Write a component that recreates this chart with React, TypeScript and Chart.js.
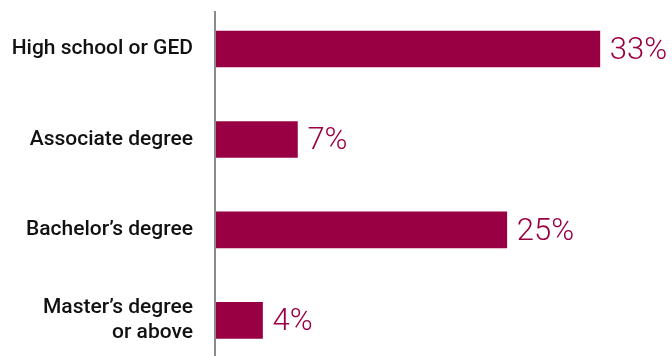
import React, { useEffect, useRef } from "react";
import { Chart, registerables } from "chart.js";

Chart.register(...registerables);

const categories: (string | string[])[] = [
  "High school or GED",
  "Associate degree",
  "Bachelor’s degree",
  ["Master’s degree", "or above"],
];
const values: number[] = [33, 7, 25, 4];
const valueLabels: string[] = ["33%", "7%", "25%", "4%"];

const BAR_COLOR = "#990044";

const axisLinePlugin = {
  id: "axisLine",
  afterDatasetsDraw(chart: any) {
    const ctx = chart.ctx;
    const x = chart.chartArea.left - 1;
    ctx.save();
    ctx.strokeStyle = "#8a8a8a";
    ctx.lineWidth = 2;
    ctx.beginPath();
    ctx.moveTo(x, 11);
    ctx.lineTo(x, chart.height);
    ctx.stroke();
    ctx.restore();
  },
};

const valueLabelPlugin = {
  id: "valueLabels",
  afterDatasetsDraw(chart: any) {
    const ctx = chart.ctx;
    const meta = chart.getDatasetMeta(0);
    ctx.save();
    ctx.fillStyle = BAR_COLOR;
    ctx.font = "300 31px Roboto";
    ctx.textAlign = "left";
    ctx.textBaseline = "middle";
    meta.data.forEach((bar: any, i: number) => {
      ctx.fillText(valueLabels[i], bar.x + 10, bar.y + 2);
    });
    ctx.restore();
  },
};

export default function App() {
  const canvasRef = useRef<HTMLCanvasElement | null>(null);

  useEffect(() => {
    document.body.style.margin = "0";
    const canvas = canvasRef.current;
    if (!canvas) return;
    const chart = new Chart(canvas, {
      type: "bar",
      data: {
        labels: categories,
        datasets: [
          {
            data: values,
            backgroundColor: BAR_COLOR,
            borderWidth: 0,
            barThickness: 36,
            clip: false as any,
          },
        ],
      },
      options: {
        indexAxis: "y",
        responsive: false,
        animation: false,
        layout: { padding: { top: 49, bottom: 35, left: 0, right: 14 } },
        plugins: { legend: { display: false }, tooltip: { enabled: false } },
        scales: {
          x: {
            display: false,
            min: 0,
            max: 38,
          },
          y: {
            offset: false,
            grid: { display: false, drawTicks: false },
            border: { display: false },
            ticks: {
              padding: 23,
              color: "#111111",
              font: { family: "Roboto", size: 21, weight: 500 as any, lineHeight: 1.2 },
            },
            afterFit(scale: any) {
              scale.width = 216;
            },
          },
        },
      },
      plugins: [axisLinePlugin, valueLabelPlugin],
    });
    return () => chart.destroy();
  }, []);

  return (
    <div style={{ width: 672, height: 356 }}>
      <canvas ref={canvasRef} width={672} height={356} style={{ display: "block" }} />
    </div>
  );
}
